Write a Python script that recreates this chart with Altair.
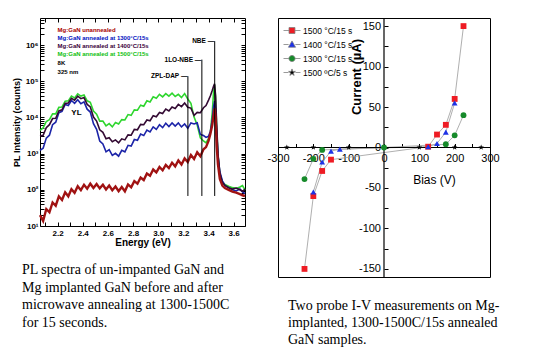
import altair as alt
import pandas as pd

SANS = "Liberation Sans"
SERIF = "Liberation Serif"

# ================= Left panel: PL spectra (values stored as log10 of counts) =================
energy_ev = [
    2.060, 2.085, 2.110, 2.135, 2.160, 2.185, 2.210, 2.235, 2.260, 2.285,
    2.310, 2.335, 2.360, 2.385, 2.410, 2.435, 2.460, 2.485, 2.510, 2.535,
    2.560, 2.585, 2.610, 2.635, 2.660, 2.685, 2.710, 2.735, 2.760, 2.785,
    2.810, 2.835, 2.860, 2.885, 2.910, 2.935, 2.960, 2.985, 3.010, 3.035,
    3.060, 3.085, 3.110, 3.135, 3.160, 3.185, 3.210, 3.235, 3.260, 3.285,
    3.310, 3.335, 3.360,
    3.380, 3.400, 3.415, 3.430, 3.440, 3.448, 3.456, 3.465, 3.475, 3.490,
    3.510, 3.530, 3.560, 3.590, 3.620, 3.650, 3.670, 3.690,
]
log_pl_1500 = [
    3.64, 3.71, 3.89, 3.94, 4.10, 4.10, 4.28, 4.29, 4.45, 4.46,
    4.59, 4.54, 4.65, 4.59, 4.62, 4.46, 4.42, 4.18, 4.09, 3.90,
    3.90, 3.77, 3.83, 3.74, 3.86, 3.82, 3.94, 3.93, 4.08, 4.06,
    4.21, 4.20, 4.34, 4.31, 4.46, 4.43, 4.57, 4.53, 4.64, 4.57,
    4.66, 4.59, 4.67, 4.58, 4.64, 4.55, 4.66, 4.51, 4.39, 4.01,
    3.79, 3.44, 3.35,
    3.30, 3.42, 3.60, 4.15, 4.70, 4.90, 4.55, 3.70, 2.95, 2.45,
    2.22, 2.15, 2.10, 2.06, 2.04, 2.08, 2.12, 2.00,
]
log_pl_1400 = [
    3.49, 3.51, 3.72, 3.80, 3.97, 3.98, 4.18, 4.21, 4.39, 4.40,
    4.53, 4.48, 4.59, 4.52, 4.55, 4.36, 4.29, 4.01, 3.90, 3.66,
    3.59, 3.41, 3.44, 3.33, 3.38, 3.30, 3.41, 3.38, 3.52, 3.51,
    3.67, 3.66, 3.81, 3.80, 3.93, 3.91, 4.05, 4.02, 4.14, 4.11,
    4.23, 4.18, 4.29, 4.25, 4.36, 4.30, 4.40, 4.28, 4.26, 4.06,
    4.14, 4.13, 4.27,
    4.33, 4.48, 4.60, 4.75, 4.86, 4.93, 4.60, 3.80, 3.00, 2.45,
    2.20, 2.12, 2.06, 2.02, 2.05, 2.00, 1.96, 2.02,
]
log_pl_1300 = [
    3.09, 3.15, 3.43, 3.51, 3.80, 3.87, 4.13, 4.17, 4.36, 4.33,
    4.47, 4.39, 4.49, 4.38, 4.43, 4.23, 4.15, 3.83, 3.67, 3.35,
    3.27, 3.05, 3.11, 2.95, 3.01, 2.93, 3.09, 3.05, 3.23, 3.21,
    3.39, 3.37, 3.54, 3.50, 3.65, 3.60, 3.74, 3.67, 3.80, 3.72,
    3.84, 3.75, 3.85, 3.76, 3.85, 3.74, 3.82, 3.70, 3.85, 3.82,
    3.85, 3.53, 3.50,
    3.45, 3.48, 3.62, 3.95, 4.30, 4.45, 4.20, 3.60, 2.95, 2.50,
    2.25, 2.12, 2.06, 2.00, 1.97, 2.02, 1.94, 1.90,
]
log_pl_unannealed = [
    1.30, 1.14, 1.47, 1.38, 1.65, 1.56, 1.82, 1.72, 1.93, 1.82,
    2.02, 1.92, 2.10, 1.99, 2.14, 2.03, 2.17, 2.05, 2.16, 2.04,
    2.14, 2.01, 2.12, 1.99, 2.09, 1.96, 2.08, 1.96, 2.15, 2.07,
    2.24, 2.17, 2.34, 2.27, 2.45, 2.39, 2.56, 2.48, 2.63, 2.54,
    2.69, 2.60, 2.75, 2.65, 2.81, 2.70, 2.87, 2.77, 2.96, 2.85,
    3.04, 2.93, 3.12,
    3.18, 3.35, 3.55, 3.80, 4.05, 4.25, 4.00, 3.20, 2.70, 2.30,
    2.12, 2.05, 2.00, 1.95, 1.92, 1.88, 1.85, 1.83,
]

pl_series = [
    "Mg:GaN unannealed",
    "Mg:GaN annealed at 1300°C/15s",
    "Mg:GaN annealed at 1400°C/15s",
    "Mg:GaN annealed at 1500°C/15s",
]
pl_colors = ["#a01212", "#1c24a8", "#330a33", "#2fd62f"]
pl_widths = [2.4, 1.6, 1.6, 1.6]

legend_lines = pl_series + ["8K", "325 nm"]
legend_colors = ["#a80000", "#0010c0", "#3a003a", "#10c010", "#000000", "#000000"]
legend_logy = [6.42, 6.19, 5.97, 5.75, 5.50, 5.25]
legend_energy = 2.20

peak_labels = ["ZPL-DAP \u2014", "1LO-NBE \u2014", "NBE \u2014"]
peak_energy = [3.236, 3.347, 3.449]
peak_top_log = [5.14, 5.60, 6.11]
peak_bottom_log = 1.83

yl_label = ["YL"]
yl_energy = [2.35]
yl_log = [4.12]

x_tick_values = [2.1, 2.2, 2.3, 2.4, 2.5, 2.6, 2.7, 2.8, 2.9, 3.0, 3.1, 3.2, 3.3, 3.4, 3.5, 3.6]
y_major = [10, 100, 1000, 10000, 100000, 1000000]
y_major_labels = ["10\u00b9", "10\u00b2", "10\u00b3", "10\u2074", "10\u2075", "10\u2076"]
y_tick_values = [m * d for d in [10, 100, 1000, 10000, 100000, 1000000] for m in range(1, 10) if m * d <= 5.6e6]

E_DOMAIN = [2.06, 3.69]
Y_DOMAIN = [10, 5.62e6]

x_scale = alt.Scale(domain=E_DOMAIN, nice=False, zero=False)
y_scale = alt.Scale(type="log", domain=Y_DOMAIN, nice=False)

y_label_expr = " : ".join(
    f"datum.value == {v} ? '{lab}'" for v, lab in zip(y_major, y_major_labels)
) + " : ''"

left_x_axis = alt.Axis(
    values=x_tick_values,
    labelExpr="round(datum.value*10) % 2 == 0 ? format(datum.value, '.1f') : ''",
    offset=-4, tickSize=4, domain=False, grid=False, labelOverlap=False,
    labelFont=SANS, labelFontSize=8, labelFontWeight="bold", labelPadding=3,
    labelColor="black", tickColor="black",
    title="Energy (eV)", titleFont=SANS, titleFontSize=10, titleFontWeight="bold",
    titlePadding=0, titleColor="black",
)
left_y_axis = alt.Axis(
    values=y_tick_values, labelExpr=y_label_expr,
    offset=-4, tickSize=4, domain=False, grid=False, labelOverlap=False,
    labelFont=SANS, labelFontSize=8, labelFontWeight="bold", labelPadding=2,
    labelColor="black", tickColor="black",
    title="PL Intensity (counts)", titleFont=SANS, titleFontSize=9, titleFontWeight="bold",
    titleColor="black", titleX=-22.5, titleY=104,
)
top_axis = alt.Axis(orient="top", values=x_tick_values, labels=False, title=None,
                    offset=-4, tickSize=4, domain=False, grid=False, tickColor="black")
right_axis = alt.Axis(orient="right", values=y_tick_values, labels=False, title=None,
                      offset=-4, tickSize=4, domain=False, grid=False, tickColor="black")

curve_data = {
    pl_series[0]: log_pl_unannealed,
    pl_series[1]: log_pl_1300,
    pl_series[2]: log_pl_1400,
    pl_series[3]: log_pl_1500,
}
draw_order = [3, 1, 2, 0]

left_layers = []
for k, idx in enumerate(draw_order):
    name = pl_series[idx]
    df = pd.DataFrame({"E": energy_ev, "counts": [10 ** v for v in curve_data[name]]})
    layer = alt.Chart(df).mark_line(color=pl_colors[idx], strokeWidth=pl_widths[idx]).encode(
        x=alt.X("E:Q", scale=x_scale, axis=left_x_axis if k == 0 else None),
        y=alt.Y("counts:Q", scale=y_scale, axis=left_y_axis if k == 0 else None),
    )
    left_layers.append(layer)

vlines_df = pd.DataFrame({
    "E": peak_energy,
    "lo": [10 ** peak_bottom_log] * len(peak_energy),
    "hi": [10 ** v for v in peak_top_log],
    "label": peak_labels,
})
vlines = alt.Chart(vlines_df).mark_rule(color="black", strokeWidth=1).encode(
    x=alt.X("E:Q", scale=x_scale, axis=top_axis),
    y=alt.Y("lo:Q", scale=y_scale, axis=right_axis),
    y2="hi:Q",
)
peak_text = alt.Chart(vlines_df).mark_text(
    align="right", baseline="middle", dx=-0.5, font=SANS, fontSize=6.5, fontWeight="bold", color="black"
).encode(
    x=alt.X("E:Q", scale=x_scale, axis=None),
    y=alt.Y("hi:Q", scale=y_scale, axis=None),
    text="label:N",
)

legend_df = pd.DataFrame({
    "E": [legend_energy] * len(legend_lines),
    "y": [10 ** v for v in legend_logy],
    "text": legend_lines,
    "col": legend_colors,
})
legend_text = alt.Chart(legend_df).mark_text(
    align="left", baseline="middle", font=SANS, fontSize=6.0, fontWeight="bold"
).encode(
    x=alt.X("E:Q", scale=x_scale, axis=None),
    y=alt.Y("y:Q", scale=y_scale, axis=None),
    text="text:N",
    color=alt.Color("col:N", scale=None),
)

yl_df = pd.DataFrame({"E": yl_energy, "y": [10 ** v for v in yl_log], "text": yl_label})
yl_text = alt.Chart(yl_df).mark_text(
    align="center", baseline="middle", font=SANS, fontSize=8, fontWeight="bold", color="black"
).encode(
    x=alt.X("E:Q", scale=x_scale, axis=None),
    y=alt.Y("y:Q", scale=y_scale, axis=None),
    text="text:N",
)

left_caption = [
    "PL spectra of un-impanted GaN and",
    "Mg implanted GaN before and after",
    "microwave annealing at 1300-1500C",
    "for 15 seconds.",
]

left = alt.layer(*left_layers, vlines, peak_text, legend_text, yl_text).resolve_axis(
    x="independent", y="independent"
).properties(
    width=205, height=208,
    title=alt.TitleParams(
        text=left_caption, orient="bottom", anchor="start", frame="group",
        font=SERIF, fontSize=14, fontWeight="normal", lineHeight=17.5,
        offset=16, dx=-18, color="black",
    ),
)

# ================= Right panel: I-V curves =================
iv_series = ["1500 °C/15 s", "1400 °C/15 s", "1300 °C/15 s", "1500 ºC/5 s"]
bias_1500_15 = [-225, -200, -175, -150, 125, 150, 175, 200, 225]
current_1500_15 = [-150, -60, -29, -15, 1, 16, 28, 60, 150]
bias_1400_15 = [-200, -175, -150, -125, 125, 150, 175, 200]
current_1400_15 = [-55, -18, -4.5, -2, 1, 5, 19, 55]
bias_1300_15 = [-225, -200, -175, 0, 175, 200, 225]
current_1300_15 = [-39, -14, -3, 0, 4, 15, 40]
bias_1500_5 = [-275, -200, -100, 100, 200, 275]
current_1500_5 = [0, 0, 0, 0, 0, 0]

marker_colors = ["#ee1c24", "#1e32e6", "#168a2a", "#000000"]
line_colors = ["#9a9a9a", "#9a9a9a", "#9a9a9a", "#000000"]
star_path = "M0,-1L0.24,-0.31L0.95,-0.31L0.38,0.12L0.59,0.81L0,0.38L-0.59,0.81L-0.38,0.12L-0.95,-0.31L-0.24,-0.31Z"
marker_shapes = ["square", "triangle-up", "circle", star_path]
legend_paths = [
    "M-1,0H-0.36M0.36,0H1M-0.35,-0.35H0.35V0.35H-0.35Z",
    "M-1,0H-0.4M0.4,0H1M0,-0.42L0.42,0.32H-0.42Z",
    "M-1,0H-0.36M0.36,0H1M-0.36,0A0.36,0.36,0,1,1,0.36,0A0.36,0.36,0,1,1,-0.36,0Z",
    "M-1,0H-0.4M0.4,0H1M0,-0.42L0.1,-0.13L0.4,-0.13L0.16,0.05L0.25,0.34L0,0.16L-0.25,0.34L-0.16,0.05L-0.4,-0.13L-0.1,-0.13Z",
]

rows = []
for name, bs, cs in zip(iv_series,
                        [bias_1500_15, bias_1400_15, bias_1300_15, bias_1500_5],
                        [current_1500_15, current_1400_15, current_1300_15, current_1500_5]):
    for b, c in zip(bs, cs):
        rows.append({"bias": b, "current": c, "series": name})
iv_df = pd.DataFrame(rows)

xr_scale = alt.Scale(domain=[-300, 300], nice=False, zero=False)
yr_scale = alt.Scale(domain=[-160, 160], nice=False, zero=False)

right_x_axis = alt.Axis(
    values=list(range(-300, 301, 50)),
    labelExpr="datum.value % 100 == 0 ? '' + datum.value : ''",
    offset=-133.5, tickSize=4, domain=False, grid=False, labelOverlap=False, labelFlush=False,
    labelFont=SANS, labelFontSize=11, labelPadding=5, labelColor="black", tickColor="black",
    title="Bias (V)", titleFont=SANS, titleFontSize=12, titleFontWeight="normal", titleColor="black",
    titleX=156, titleY=31,
)
right_y_axis = alt.Axis(
    values=list(range(-150, 151, 25)),
    labelExpr="datum.value % 50 == 0 ? '' + datum.value : ''",
    offset=-110, tickSize=4, domain=False, grid=False, labelOverlap=False,
    labelFont=SANS, labelFontSize=11, labelPadding=3.5, labelColor="black", tickColor="black",
    title="Current (\u00b5A)", titleFont=SANS, titleFontSize=13, titleFontWeight="bold", titleColor="black",
    titleX=-25, titleY=58.5,
)

iv_lines = alt.Chart(iv_df).mark_line(strokeWidth=0.8).encode(
    x=alt.X("bias:Q", scale=xr_scale, axis=right_x_axis),
    y=alt.Y("current:Q", scale=yr_scale, axis=right_y_axis),
    color=alt.Color("series:N", scale=alt.Scale(domain=iv_series, range=line_colors), legend=None),
    order="bias:Q",
)

zero_df = pd.DataFrame({"v": [0]})
zero_v = alt.Chart(zero_df).mark_rule(color="black", strokeWidth=1.2).encode(
    x=alt.X("v:Q", scale=xr_scale, axis=None))
zero_h = alt.Chart(zero_df).mark_rule(color="black", strokeWidth=1.2).encode(
    y=alt.Y("v:Q", scale=yr_scale, axis=None))

iv_points = alt.Chart(iv_df).mark_point(filled=True, opacity=1, size=34).encode(
    x=alt.X("bias:Q", scale=xr_scale, axis=None),
    y=alt.Y("current:Q", scale=yr_scale, axis=None),
    color=alt.Color("series:N", scale=alt.Scale(domain=iv_series, range=marker_colors), legend=None),
    shape=alt.Shape("series:N", scale=alt.Scale(domain=iv_series, range=marker_shapes), legend=None),
)
legend_props = dict(orient="none", legendX=5, legendY=3.5, title=None,
                    labelFont=SANS, labelFontSize=8.5, labelColor="black",
                    symbolSize=289, rowPadding=0, labelOffset=2, padding=0,
                    symbolStrokeColor="#808080", symbolStrokeWidth=0.8)
iv_legend = alt.Chart(iv_df).transform_filter("false").mark_point(
    filled=True, opacity=1, stroke="#808080", strokeWidth=0.8
).encode(
    x=alt.X("bias:Q", scale=xr_scale, axis=None),
    y=alt.Y("current:Q", scale=yr_scale, axis=None),
    color=alt.Color("series:N", scale=alt.Scale(domain=iv_series, range=marker_colors),
                    legend=alt.Legend(**legend_props)),
    shape=alt.Shape("series:N", scale=alt.Scale(domain=iv_series, range=legend_paths),
                    legend=alt.Legend(**legend_props)),
)

right_caption = [
    "Two probe I-V measurements on Mg-",
    "implanted, 1300-1500C/15s annealed",
    "GaN samples.",
]

right = alt.layer(iv_lines, zero_v, zero_h, iv_points, iv_legend).resolve_scale(
    color="independent", shape="independent"
).resolve_axis(
    x="independent", y="independent"
).properties(
    width=212, height=259,
    title=alt.TitleParams(
        text=right_caption, orient="bottom", anchor="start", frame="group",
        font=SERIF, fontSize=14, fontWeight="normal", lineHeight=17,
        offset=21, dx=10, color="black",
    ),
)

chart = alt.hconcat(left, right, spacing=33, bounds="flush").properties(
    padding={"left": 12, "top": 15, "right": 5, "bottom": 0},
    background="white",
).configure_view(stroke="black", strokeWidth=1)

chart.save("out.html", embed_options={"renderer": "svg", "actions": False})
